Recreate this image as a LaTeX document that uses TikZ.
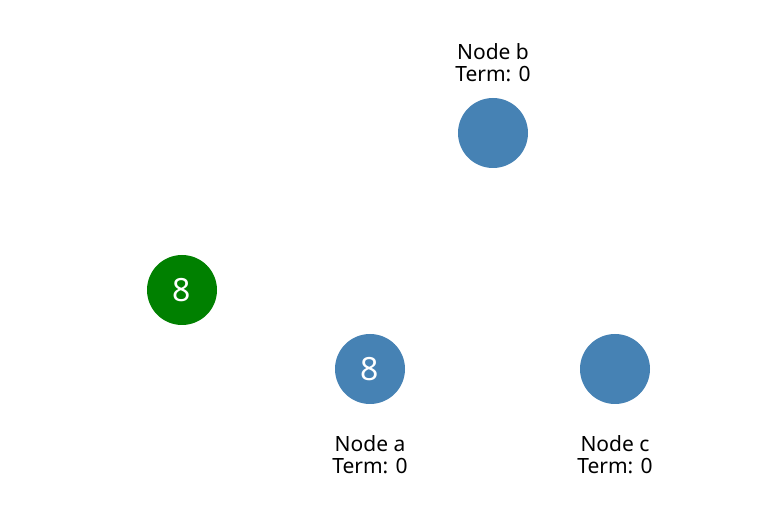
\documentclass[tikz,border=0pt]{standalone}
\usepackage{fontspec}
\setmainfont{Noto Sans}
\begin{document}
\begin{tikzpicture}[x=1pt,y=-1pt,
  vert/.style={circle,fill=steel,minimum size=70pt,inner sep=0pt,text=white,font=\fontsize{32}{32}\selectfont},
  lbl/.style={align=center,font=\fontsize{21}{22}\selectfont,text=black,inner sep=0pt}]
\definecolor{steel}{HTML}{4682B4}
\definecolor{grn}{HTML}{008000}
\useasboundingbox[fill=white] (0,0) rectangle (764,529);
\node[vert,fill=grn] (g) at (182,290) {8};
\node[vert] (a) at (370,369) {8};
\node[vert] (b) at (493,133) {};
\node[vert] (c) at (615,369) {};
\node[lbl] (la) at (370,455) {Node a\\Term: 0};
\node[lbl] (lb) at (493,63) {Node b\\Term: 0};
\node[lbl] (lc) at (615,455) {Node c\\Term: 0};
\end{tikzpicture}
\end{document}
